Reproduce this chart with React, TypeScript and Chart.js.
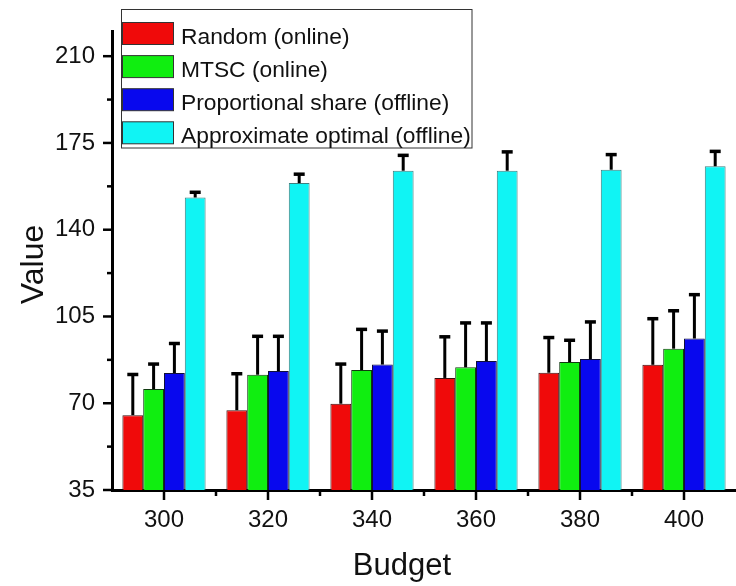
import React, { useEffect, useRef } from 'react';
import { Chart, registerables } from 'chart.js';

Chart.register(...registerables);

const categories = ['300', '320', '340', '360', '380', '400'];
const seriesLabels = [
  'Random (online)',
  'MTSC (online)',
  'Proportional share (offline)',
  'Approximate optimal (offline)',
];
const randomValues = [65.2, 67.2, 69.8, 80.2, 82.3, 85.5];
const randomErrors = [16.4, 14.7, 16.0, 16.6, 14.2, 18.6];
const mtscValues = [75.7, 81.5, 83.4, 84.5, 86.6, 92.0];
const mtscErrors = [10.1, 15.5, 16.4, 17.9, 8.8, 15.3];
const propValues = [82.2, 83.0, 85.6, 87.0, 87.8, 96.1];
const propErrors = [11.9, 14.0, 13.5, 15.4, 15.0, 17.7];
const approxValues = [153.0, 158.8, 163.8, 163.8, 164.2, 165.6];
const approxErrors = [2.1, 3.6, 6.2, 7.6, 6.1, 6.0];

const yMin = 35;
const yMax = 220;
const yMajorStep = 35;
const yMinorStep = 17.5;
const xTitle = 'Budget';
const yTitle = 'Value';

const fillColors = ['#f00a0a', '#10ee10', '#0808ee', '#10f4f4'];
const borderColors = ['#3a1010', '#103a10', '#10103a', '#3f7f7f'];
const FONT = '"Liberation Sans", Arial, sans-serif';

const errorBarPlugin = {
  id: 'errorBars',
  afterDatasetsDraw(chart: any) {
    const ctx = chart.ctx;
    const yScale = chart.scales.y;
    ctx.save();
    ctx.strokeStyle = '#000';
    chart.data.datasets.forEach((ds: any, di: number) => {
      const meta = chart.getDatasetMeta(di);
      meta.data.forEach((el: any, i: number) => {
        const v = ds.data[i];
        const e = ds.errors[i];
        const yTop = yScale.getPixelForValue(v + e);
        ctx.lineWidth = 3;
        ctx.beginPath();
        ctx.moveTo(el.x, el.y);
        ctx.lineTo(el.x, yTop);
        ctx.stroke();
        ctx.lineWidth = 3.5;
        ctx.beginPath();
        ctx.moveTo(el.x - 5.5, yTop);
        ctx.lineTo(el.x + 5.5, yTop);
        ctx.stroke();
      });
    });
    ctx.restore();
  },
};

const axisDecorPlugin = {
  id: 'axisDecor',
  afterDraw(chart: any) {
    const ctx = chart.ctx;
    const xs = chart.scales.x;
    const ys = chart.scales.y;
    const area = chart.chartArea;
    ctx.save();
    ctx.strokeStyle = '#000';
    ctx.lineWidth = 2.5;
    ys.ticks.forEach((t: any) => {
      const y = ys.getPixelForValue(t.value);
      const k = (t.value - yMin) / yMajorStep;
      const major = Math.abs(k - Math.round(k)) < 1e-6;
      const len = major ? 9 : 5;
      ctx.beginPath();
      ctx.moveTo(area.left - len, y);
      ctx.lineTo(area.left, y);
      ctx.stroke();
    });
    for (let i = 0; i < categories.length; i++) {
      const x = xs.getPixelForValue(i);
      ctx.beginPath();
      ctx.moveTo(x, area.bottom);
      ctx.lineTo(x, area.bottom + 10);
      ctx.stroke();
      if (i > 0) {
        const xb = (xs.getPixelForValue(i - 1) + x) / 2;
        ctx.beginPath();
        ctx.moveTo(xb, area.bottom);
        ctx.lineTo(xb, area.bottom + 6);
        ctx.stroke();
      }
    }
    ctx.fillStyle = '#111';
    ctx.font = `31px ${FONT}`;
    ctx.textAlign = 'center';
    ctx.textBaseline = 'alphabetic';
    ctx.fillText(xTitle, 402, 575);
    ctx.save();
    ctx.translate(43, 264.5);
    ctx.rotate(-Math.PI / 2);
    ctx.font = `32px ${FONT}`;
    ctx.fillText(yTitle, 0, 0);
    ctx.restore();

    const bx = 121.5, by = 9.5, bw = 350.5, bh = 138.5;
    ctx.fillStyle = '#fff';
    ctx.fillRect(bx, by, bw, bh);
    ctx.lineWidth = 1;
    ctx.strokeStyle = '#333';
    ctx.strokeRect(bx, by, bw, bh);
    ctx.font = `22.8px ${FONT}`;
    ctx.textAlign = 'left';
    chart.data.datasets.forEach((ds: any, i: number) => {
      const top = 22.5 + i * 33.1;
      ctx.fillStyle = ds.backgroundColor;
      ctx.fillRect(122.5, top, 51, 22);
      ctx.strokeStyle = '#333';
      ctx.strokeRect(122.5, top, 51, 22);
      ctx.fillStyle = '#111';
      ctx.fillText(ds.label, 181, top + 21);
    });
    ctx.restore();
  },
};

export default function App() {
  const ref = useRef<HTMLCanvasElement>(null);
  useEffect(() => {
    const valuesList = [randomValues, mtscValues, propValues, approxValues];
    const errorsList = [randomErrors, mtscErrors, propErrors, approxErrors];
    const chart = new Chart(ref.current as HTMLCanvasElement, {
      type: 'bar',
      data: {
        labels: categories,
        datasets: seriesLabels.map((label, i) => ({
          label,
          data: valuesList[i],
          errors: errorsList[i],
          backgroundColor: fillColors[i],
          borderColor: borderColors[i],
          borderWidth: 1,
          categoryPercentage: 0.8,
          barPercentage: 1.0,
        })) as any,
      },
      options: {
        animation: false,
        responsive: false,
        events: [],
        layout: { padding: { top: 18, right: 0, left: 0, bottom: 0 } },
        plugins: {
          legend: { display: false },
          tooltip: { enabled: false },
          title: { display: false },
        },
        scales: {
          x: {
            type: 'category',
            offset: true,
            grid: { display: true, drawOnChartArea: false, drawTicks: false },
            border: { display: true, color: '#000', width: 3 },
            ticks: {
              color: '#111',
              font: { family: FONT, size: 24 },
              padding: 16,
              maxRotation: 0,
              autoSkip: false,
            },
            afterFit: (s: any) => {
              s.height = 96;
            },
          },
          y: {
            type: 'linear',
            min: yMin,
            max: yMax,
            grid: { display: true, drawOnChartArea: false, drawTicks: false },
            border: { display: true, color: '#000', width: 3 },
            ticks: {
              stepSize: yMinorStep,
              includeBounds: false,
              autoSkip: false,
              color: '#111',
              font: { family: FONT, size: 24 },
              padding: 17,
              callback: (v: any) => {
                const k = (Number(v) - yMin) / yMajorStep;
                return Math.abs(k - Math.round(k)) < 1e-6 ? String(v) : '';
              },
            },
            afterFit: (s: any) => {
              s.width = 112;
            },
          },
        },
      } as any,
      plugins: [errorBarPlugin, axisDecorPlugin],
    });
    return () => chart.destroy();
  }, []);
  return (
    <div style={{ position: 'fixed', left: 0, top: 0, width: 736, height: 586, background: '#fff' }}>
      <canvas ref={ref} width={736} height={586} style={{ display: 'block' }} />
    </div>
  );
}
